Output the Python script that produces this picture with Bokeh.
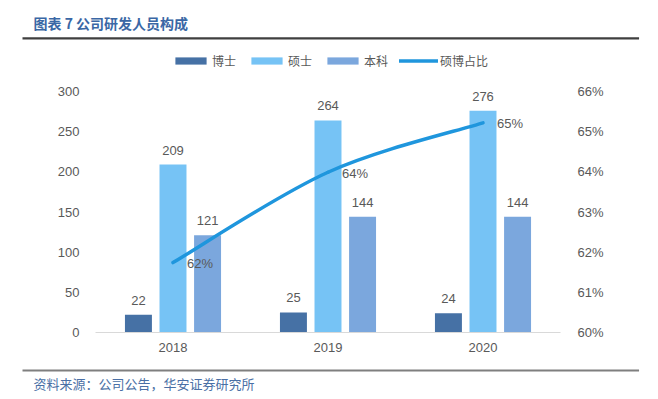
from bokeh.plotting import figure
from bokeh.models import (Range1d, LinearAxis, FixedTicker, Legend, LegendItem, Title,
                          ColumnDataSource, CustomJSTickFormatter)
from bokeh.embed import file_html
from bokeh.resources import INLINE
from bokeh.core.properties import value

# ---- data ----
years = ["2018", "2019", "2020"]
phd = [22, 25, 24]
master = [209, 264, 276]
bachelor = [121, 144, 144]
ratio = [61.74, 63.99, 65.22]          # 硕博占比 (%), right axis
ratio_labels = ["62%", "64%", "65%"]
left_ticks = [0, 50, 100, 150, 200, 250, 300]
right_ticks = [60, 61, 62, 63, 64, 65, 66]

title_text = "图表 7 公司研发人员构成"
source_text = "资料来源：公司公告，华安证券研究所"
legend_names = ["博士", "硕士", "本科", "硕博占比"]

C_PHD = "#4671a5"
C_MAS = "#76c3f5"
C_BAC = "#7ba7dd"
C_LINE = "#1f96dd"
TXT = "#595959"
NUM_FONT = "Liberation Sans"
CJK = "Noto Sans CJK SC"

# ---- layout (pixels) ----
W, H = 658, 399
FRAME_TOP, FRAME_BOTTOM = 40, 332      # frame extends above the plotted area to host the legend
AXIS_TOP_Y = 91                        # pixel row of the top tick (300 / 66%)
LEFT_MAX, PCT_MIN, PCT_MAX = 300, 60, 66
scale = (FRAME_BOTTOM - FRAME_TOP) / (FRAME_BOTTOM - AXIS_TOP_Y)

p = figure(width=W, height=H, output_backend="svg", toolbar_location=None,
           x_range=Range1d(0, 3), y_range=Range1d(0, LEFT_MAX * scale),
           min_border_left=95, min_border_right=98, min_border_top=FRAME_TOP,
           min_border_bottom=H - FRAME_BOTTOM)
p.outline_line_color = None
p.xgrid.visible = False
p.ygrid.visible = False
p.background_fill_color = "white"
p.border_fill_color = "white"

xc = [i + 0.5 for i in range(len(years))]
off = 0.223
bw = 0.174
src = ColumnDataSource(dict(
    xp=[x - off for x in xc], xm=xc, xb=[x + off for x in xc],
    phd=phd, master=master, bachelor=bachelor,
    phd_t=[str(v) for v in phd], master_t=[str(v) for v in master],
    bachelor_t=[str(v) for v in bachelor]))

r_phd = p.vbar(x="xp", top="phd", width=bw, bottom=0, source=src, fill_color=C_PHD, line_color=None)
r_mas = p.vbar(x="xm", top="master", width=bw, bottom=0, source=src, fill_color=C_MAS, line_color=None)
r_bac = p.vbar(x="xb", top="bachelor", width=bw, bottom=0, source=src, fill_color=C_BAC, line_color=None)

for xcol, ycol, tcol in [("xp", "phd", "phd_t"), ("xm", "master", "master_t"), ("xb", "bachelor", "bachelor_t")]:
    p.text(x=xcol, y=ycol, text=tcol, source=src, text_align="center", text_baseline="bottom",
           y_offset=-10, text_font=value(NUM_FONT), text_font_size="13px", text_color=TXT)

p.extra_y_ranges = {"pct": Range1d(PCT_MIN, PCT_MIN + (PCT_MAX - PCT_MIN) * scale)}

# smooth curve (Catmull-Rom -> cubic bezier) through the ratio points
pts = list(zip(xc, ratio))
bx0, by0, bx1, by1, cx0, cy0, cx1, cy1 = [], [], [], [], [], [], [], []
n = len(pts)
for i in range(n - 1):
    p0 = pts[i - 1] if i > 0 else pts[i]
    p1 = pts[i]
    p2 = pts[i + 1]
    p3 = pts[i + 2] if i + 2 < n else pts[i + 1]
    bx0.append(p1[0]); by0.append(p1[1]); bx1.append(p2[0]); by1.append(p2[1])
    cx0.append(p1[0] + (p2[0] - p0[0]) / 6); cy0.append(p1[1] + (p2[1] - p0[1]) / 6)
    cx1.append(p2[0] - (p3[0] - p1[0]) / 6); cy1.append(p2[1] - (p3[1] - p1[1]) / 6)
p.bezier(x0=bx0, y0=by0, x1=bx1, y1=by1, cx0=cx0, cy0=cy0, cx1=cx1, cy1=cy1,
         y_range_name="pct", line_color=C_LINE, line_width=3.5, line_cap="round")
r_leg_line = p.line(x=xc, y=ratio, y_range_name="pct", line_color=C_LINE, line_width=3.5,
                    line_cap="round", visible=False)

p.text(x=xc, y=ratio, text=ratio_labels, y_range_name="pct", text_align="left",
       text_baseline="middle", x_offset=14, y_offset=1, text_font=value(NUM_FONT),
       text_font_size="13px", text_color=TXT)

# axes
p.xaxis.ticker = FixedTicker(ticks=xc)
p.xaxis.major_label_overrides = {x: y for x, y in zip(xc, years)}
p.xaxis.axis_line_color = "#d9d9d9"
p.xaxis.major_tick_line_color = None
p.xaxis.minor_tick_line_color = None
p.xaxis.major_label_standoff = 4
p.xaxis.major_label_text_font = NUM_FONT
p.xaxis.major_label_text_font_size = "13px"
p.xaxis.major_label_text_color = TXT

p.yaxis.ticker = FixedTicker(ticks=left_ticks)
p.yaxis.axis_line_color = None
p.yaxis.major_tick_line_color = None
p.yaxis.minor_tick_line_color = None
p.yaxis.major_label_standoff = 10
p.yaxis.major_label_text_font = NUM_FONT
p.yaxis.major_label_text_font_size = "13px"
p.yaxis.major_label_text_color = TXT

ax_r = LinearAxis(y_range_name="pct", ticker=FixedTicker(ticks=right_ticks),
                  formatter=CustomJSTickFormatter(code="return tick.toFixed(0) + '%';"))
ax_r.axis_line_color = None
ax_r.major_tick_line_color = None
ax_r.minor_tick_line_color = None
ax_r.major_label_standoff = 11
ax_r.major_label_text_font = NUM_FONT
ax_r.major_label_text_font_size = "13px"
ax_r.major_label_text_color = TXT
p.add_layout(ax_r, "right")

legend = Legend(items=[LegendItem(label=legend_names[0], renderers=[r_phd]),
                       LegendItem(label=legend_names[1], renderers=[r_mas]),
                       LegendItem(label=legend_names[2], renderers=[r_bac]),
                       LegendItem(label=legend_names[3], renderers=[r_leg_line])],
                orientation="horizontal", location=(76, FRAME_BOTTOM - 69), padding=0, margin=0,
                spacing=11, glyph_width=39, glyph_height=9, label_standoff=2,
                label_text_font=CJK, label_text_font_size="12px", label_text_color=TXT,
                background_fill_alpha=0, border_line_color=None)
p.add_layout(legend, "center")

# header: rule (nearest the frame) and title
t_line = Title(text=" ", align="left", offset=-73, standoff=2, text_font_size="2px",
               background_fill_color="#3f3f3f", padding=dict(left=0, right=616, top=0, bottom=0))
p.add_layout(t_line, "above")
t_title = Title(text=title_text, align="left", offset=-62, standoff=3, text_font=CJK,
                text_font_size="14px", text_font_style="bold", text_color="#3a67a5")
p.add_layout(t_title, "above")

# footer: spacer, rule, source
f_space = Title(text=" ", align="left", offset=0, standoff=10, text_font_size="1px")
p.add_layout(f_space, "below")
f_line = Title(text=" ", align="left", offset=-73, standoff=2, text_font_size="2px",
               vertical_align="middle", background_fill_color="#7f7f7f",
               padding=dict(left=0, right=616, top=0, bottom=0))
p.add_layout(f_line, "below")
f_title = Title(text=source_text, align="left", offset=-62, standoff=0, vertical_align="top",
                text_font=CJK, text_font_size="13px", text_font_style="normal",
                text_color="#4a6fa5")
p.add_layout(f_title, "below")

open("out.html", "w").write(file_html(p, INLINE))
